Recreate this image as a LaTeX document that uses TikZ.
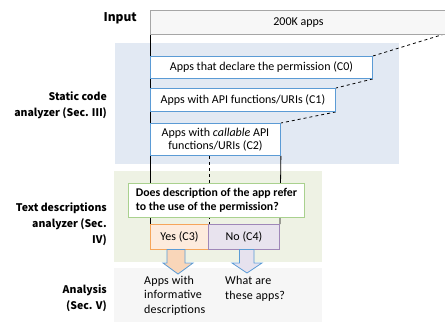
\documentclass[tikz,border=0pt]{standalone}
\usepackage{fontspec}
\setmainfont{Carlito}
\newfontfamily\jpfont{Noto Sans CJK JP}
\newfontfamily\outfont{Carlito}[LetterSpace=1.5]
\definecolor{bluebg}{HTML}{E2E9F3}
\definecolor{greenbg}{HTML}{EEF2E4}
\definecolor{graybg}{HTML}{F6F6F6}
\definecolor{boxblue}{HTML}{5B9BD5}
\definecolor{inborder}{HTML}{A6A6A6}
\definecolor{infill}{HTML}{F7F7F7}
\definecolor{qgreen}{HTML}{A9D18E}
\definecolor{yesborder}{HTML}{F6A55A}
\definecolor{yesfill}{HTML}{FDEBDD}
\definecolor{noborder}{HTML}{9F87B8}
\definecolor{nofill}{HTML}{E8E3EE}
\definecolor{yesarrow}{HTML}{F9D6B9}
\definecolor{noarrow}{HTML}{E6E2EE}
\pgfdeclarelayer{bg}
\pgfdeclarelayer{mid}
\pgfsetlayers{bg,mid,main}
\tikzset{
  stagebox/.style={draw=boxblue, fill=white, line width=0.9pt, inner sep=0pt, anchor=north west},
  inputbox/.style={draw=inborder, fill=infill, line width=0.9pt, inner sep=0pt, anchor=north west},
  qbox/.style={draw=qgreen, fill=white, line width=0.9pt, inner sep=0pt, anchor=north west, align=left, font=\bfseries\fontsize{11.8}{13.5}\selectfont},
  yesbox/.style={draw=yesborder, fill=yesfill, line width=1pt, inner sep=0pt, anchor=north west},
  nobox/.style={draw=noborder, fill=nofill, line width=1pt, inner sep=0pt, anchor=north west},
  lbl/.style={inner sep=0pt, align=right, font=\jpfont\bfseries\fontsize{10.5}{16}\selectfont},
  flowline/.style={black, line width=0.8pt},
  blockarrow/.style={draw=boxblue, line width=0.8pt},
  outtext/.style={inner sep=0pt, anchor=north west, align=left, font=\outfont\fontsize{12}{14.5}\selectfont}
}
\begin{document}
\begin{tikzpicture}[x=1pt,y=-1pt,font=\fontsize{12}{12.5}\selectfont]
\useasboundingbox (0,0) rectangle (445,322);
% background panels
\begin{pgfonlayer}{bg}
\fill[bluebg] (115,43) rectangle (399,164);
\fill[greenbg] (114,171) rectangle (322,262);
\fill[graybg] (114,268) rectangle (322,322);
\end{pgfonlayer}
% boxes
\node[inputbox, minimum width=296pt, minimum height=24pt] (input) at (150,10) {200K apps};
\node[stagebox, minimum width=222pt, minimum height=22pt] (c0) at (150,56) {Apps that declare the permission (C0)};
\node[stagebox, minimum width=185pt, minimum height=23pt] (c1) at (150,88) {Apps with API functions/URIs (C1)};
\node[stagebox, minimum width=130pt, minimum height=32pt, align=center] (c2) at (150,123) {Apps with \emph{callable} API\\functions/URIs (C2)};
\node[qbox, minimum width=176pt, minimum height=34pt] (q) at (128,183) {Does description of the app refer\\to the use of the permission?};
\node[yesbox, minimum width=58pt, minimum height=25pt] (yes) at (150,224) {Yes (C3)};
\node[nobox, minimum width=71pt, minimum height=25pt] (no) at (208,224) {No (C4)};
% connectors
\begin{pgfonlayer}{mid}
\draw[flowline] (input.south west) -- (yes.north west);
\draw[flowline] (c2.south east) -- (no.north east);
\draw[flowline, dashed] (yes.north east |- c2.south) -- (yes.north east);
\draw[flowline, dashed] (444.5,34) -- (c0.north east);
\draw[flowline, dashed] (c0.south east) -- (c1.north east);
\draw[flowline, dashed] (c1.south east) -- (c2.north east);
\end{pgfonlayer}
% block arrows
\draw[blockarrow, fill=yesarrow] (167,249.5) -- (167,263) -- (163,263) -- (178,274) -- (193,263) -- (185,263) -- (185,249.5) -- cycle;
\draw[blockarrow, fill=noarrow] (239.5,249.5) -- (239.5,263) -- (232,263) -- (247,273) -- (262,263) -- (254,263) -- (254,249.5) -- cycle;
% outputs
\node[outtext] (infoapps) at (144,275.5) {Apps with\\informative\\descriptions};
\node[outtext] (whatapps) at (225,276) {What are\\these apps?};
% stage labels
\node[lbl, anchor=east, font=\jpfont\bfseries\fontsize{12}{14}\selectfont] (linput) at (137,18) {Input};
\node[lbl, anchor=north east] (lstatic) at (107,91.5) {Static code\\analyzer (Sec. Ⅲ)};
\node[lbl, anchor=north east] (ltext) at (107,202.5) {Text descriptions\\analyzer (Sec.\\Ⅳ)};
\node[lbl, anchor=north east] (lanal) at (107,284.5) {Analysis\\(Sec. V)};
\end{tikzpicture}
\end{document}
